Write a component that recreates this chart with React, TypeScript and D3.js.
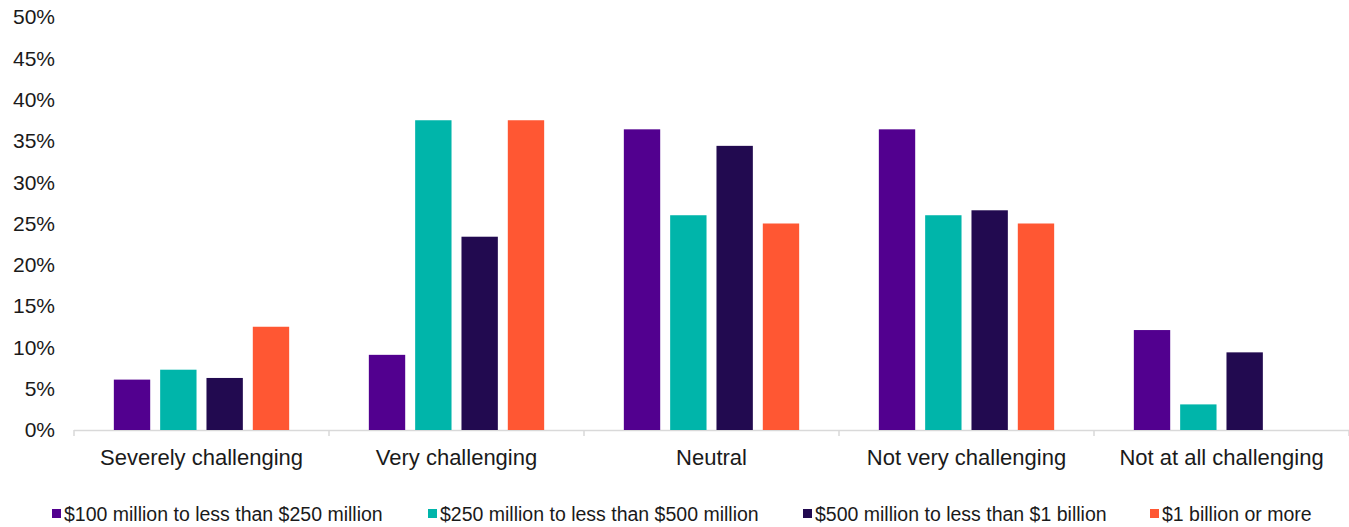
import React from "react";
import * as d3 from "d3";

const categories = ["Severely challenging", "Very challenging", "Neutral", "Not very challenging", "Not at all challenging"];
const seriesNames = [
  "$100 million to less than $250 million",
  "$250 million to less than $500 million",
  "$500 million to less than $1 billion",
  "$1 billion or more",
];
const s100to250 = [6.1, 9.1, 36.4, 36.4, 12.1];
const s250to500 = [7.3, 37.5, 26.0, 26.0, 3.1];
const s500to1b = [6.3, 23.4, 34.4, 26.6, 9.4];
const s1bPlus = [12.5, 37.5, 25.0, 25.0, 0];
const yTicks = [0, 5, 10, 15, 20, 25, 30, 35, 40, 45, 50];
const colors = ["#52008F", "#00B5AA", "#220A50", "#FF5733"];
const legendX = [52, 428, 803, 1150];

export default function App() {
  const W = 1349, H = 527;
  const left = 74, right = 1349, top = 17, bottom = 430;
  const series = [s100to250, s250to500, s500to1b, s1bPlus];
  const x = d3.scaleBand<string>().domain(categories).range([left, right]).paddingInner(0).paddingOuter(0);
  const y = d3.scaleLinear().domain([0, 50]).range([bottom, top]);
  const inner = d3.scaleBand<number>().domain([0, 1, 2, 3]).range([0, x.bandwidth()]).paddingInner(0.215).paddingOuter(0.86);
  const font = "'Liberation Sans', Arial, sans-serif";
  return (
    <svg width={W} height={H} style={{ position: "absolute", left: 0, top: 0 }} fontFamily={font}>
      {yTicks.map((t) => (
        <text key={t} x={55} y={y(t)} dy="0.35em" textAnchor="end" fontSize={21} fill="#1a1a1a">{t}%</text>
      ))}
      <line x1={left} x2={right} y1={bottom + 0.5} y2={bottom + 0.5} stroke="#D9D9D9" strokeWidth={1.5} />
      {d3.range(categories.length + 1).map((i) => {
        const xx = left + i * x.bandwidth();
        return <line key={i} x1={xx} x2={xx} y1={bottom} y2={bottom + 6} stroke="#D9D9D9" strokeWidth={1.5} />;
      })}
      {categories.map((c, ci) => (
        <g key={c} transform={`translate(${x(c)},0)`}>
          {series.map((s, si) => s[ci] > 0 && (
            <rect key={si} x={inner(si)} y={y(s[ci])} width={inner.bandwidth()} height={bottom - y(s[ci])} fill={colors[si]} />
          ))}
          <text x={x.bandwidth() / 2} y={465} textAnchor="middle" fontSize={22} fill="#1a1a1a">{c}</text>
        </g>
      ))}
      {seriesNames.map((n, i) => (
        <g key={n}>
          <rect x={legendX[i]} y={509} width={9} height={9} fill={colors[i]} />
          <text x={legendX[i] + 12} y={514} dy="0.35em" fontSize={19.5} fill="#1a1a1a">{n}</text>
        </g>
      ))}
    </svg>
  );
}
